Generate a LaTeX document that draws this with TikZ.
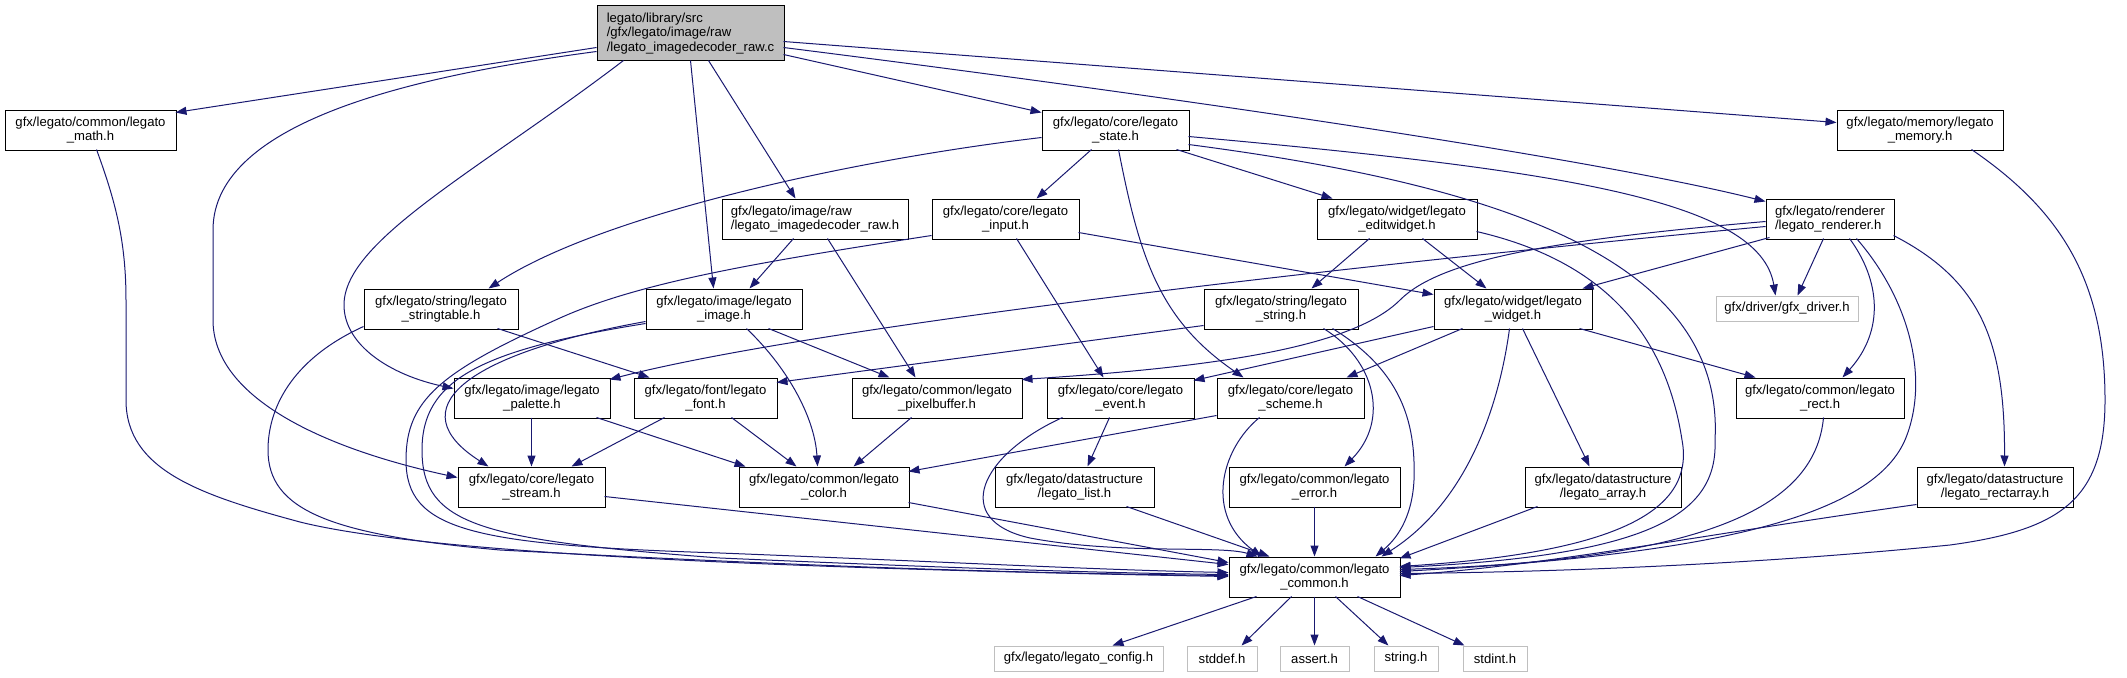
\documentclass[tikz,border=0pt]{standalone}
\usepackage{fontspec}
\setmainfont{Liberation Sans}
\usetikzlibrary{arrows.meta,calc}
\definecolor{edgecol}{HTML}{191970}
\definecolor{rootfill}{HTML}{BFBFBF}
\definecolor{extcol}{HTML}{BFBFBF}
\tikzset{
  box/.style={draw=black, line width=1pt, fill=white, inner sep=0pt, align=center,
    font=\fontsize{13.1}{14.6}\selectfont},
  extbox/.style={box, draw=extcol},
  e/.style={draw=edgecol, line width=1pt, -{Triangle[length=11pt,width=8pt]}}
}
\begin{document}
\begin{tikzpicture}[x=1pt,y=-1pt]
\useasboundingbox (0,0) rectangle (2127,677);
% nodes
\node[box, fill=rootfill, align=left, minimum width=187pt, minimum height=55pt] (root) at (690.5,33.5) {legato/library/src\\/gfx/legato/image/raw\\/legato\_imagedecoder\_raw.c};
\node[box, minimum width=171pt, minimum height=40pt] (math) at (90.5,130) {gfx/legato/common/legato\\\_math.h};
\node[box, minimum width=147pt, minimum height=40pt] (state) at (1115.5,130) {gfx/legato/core/legato\\\_state.h};
\node[box, minimum width=166pt, minimum height=40pt] (memory) at (1920,130) {gfx/legato/memory/legato\\\_memory.h};
\node[box, align=left, minimum width=186pt, minimum height=40pt] (imgraw) at (815,219) {gfx/legato/image/raw\\/legato\_imagedecoder\_raw.h};
\node[box, minimum width=147pt, minimum height=40pt] (input) at (1005.5,219) {gfx/legato/core/legato\\\_input.h};
\node[box, minimum width=160pt, minimum height=40pt] (editw) at (1397,219) {gfx/legato/widget/legato\\\_editwidget.h};
\node[box, align=left, minimum width=128pt, minimum height=40pt] (render) at (1830,219) {gfx/legato/renderer\\/legato\_renderer.h};
\node[box, minimum width=154pt, minimum height=40pt] (strtab) at (441,309) {gfx/legato/string/legato\\\_stringtable.h};
\node[box, minimum width=156pt, minimum height=40pt] (image) at (724,309) {gfx/legato/image/legato\\\_image.h};
\node[box, minimum width=154pt, minimum height=40pt] (lstring) at (1281,309) {gfx/legato/string/legato\\\_string.h};
\node[box, minimum width=158pt, minimum height=40pt] (widget) at (1513,309) {gfx/legato/widget/legato\\\_widget.h};
\node[extbox, minimum width=142pt, minimum height=25pt] (driver) at (1787,308.5) {gfx/driver/gfx\_driver.h};
\node[box, minimum width=156pt, minimum height=40pt] (palette) at (532,398) {gfx/legato/image/legato\\\_palette.h};
\node[box, minimum width=143pt, minimum height=40pt] (font) at (705.5,398) {gfx/legato/font/legato\\\_font.h};
\node[box, minimum width=170pt, minimum height=40pt] (pixbuf) at (937,398) {gfx/legato/common/legato\\\_pixelbuffer.h};
\node[box, minimum width=147pt, minimum height=40pt] (event) at (1120.5,398) {gfx/legato/core/legato\\\_event.h};
\node[box, minimum width=147pt, minimum height=40pt] (scheme) at (1290.5,398) {gfx/legato/core/legato\\\_scheme.h};
\node[box, minimum width=168pt, minimum height=40pt] (rect) at (1820,398) {gfx/legato/common/legato\\\_rect.h};
\node[box, minimum width=147pt, minimum height=40pt] (stream) at (531.5,487) {gfx/legato/core/legato\\\_stream.h};
\node[box, minimum width=170pt, minimum height=40pt] (color) at (824,487) {gfx/legato/common/legato\\\_color.h};
\node[box, minimum width=159pt, minimum height=40pt] (list) at (1074.5,487) {gfx/legato/datastructure\\/legato\_list.h};
\node[box, minimum width=171pt, minimum height=40pt] (error) at (1314.5,487) {gfx/legato/common/legato\\\_error.h};
\node[box, minimum width=156pt, minimum height=40pt] (array) at (1603,487) {gfx/legato/datastructure\\/legato\_array.h};
\node[box, minimum width=156pt, minimum height=40pt] (rectarr) at (1995,487) {gfx/legato/datastructure\\/legato\_rectarray.h};
\node[box, minimum width=171pt, minimum height=40pt] (common) at (1314.5,577) {gfx/legato/common/legato\\\_common.h};
\node[extbox, minimum width=169pt, minimum height=25pt] (config) at (1078.5,658.5) {gfx/legato/legato\_config.h};
\node[extbox, minimum width=70pt, minimum height=25pt] (stddef) at (1222,658.5) {stddef.h};
\node[extbox, minimum width=69pt, minimum height=25pt] (assert) at (1314.5,658.5) {assert.h};
\node[extbox, minimum width=64pt, minimum height=25pt] (stdh) at (1406,658.5) {string.h};
\node[extbox, minimum width=64pt, minimum height=25pt] (stdint) at (1495,658.5) {stdint.h};
% edges from root
\draw[e] ($(root.north west)+(0,42)$) -- ($(math.north west)+(171,3)$);
\draw[e] ($(root.north west)+(0,46)$) .. controls (420,75) and (213,120) .. (213,230) -- (213,320) .. controls (213,400) and (330,450) .. ($(stream.north west)+(0,11)$);
\draw[e] ($(root.north west)+(27,55)$) .. controls (480,170) and (344,240) .. (344,305) .. controls (344,345) and (390,375) .. ($(palette.north west)+(0,11)$);
\draw[e] ($(root.north west)+(94,55)$) -- ($(image.north west)+(68,0)$);
\draw[e] ($(root.north west)+(112,55)$) -- ($(imgraw.north west)+(74,0)$);
\draw[e] ($(root.north west)+(187,49)$) -- ($(state.north west)+(0,3)$);
\draw[e] ($(root.north west)+(187,42)$) .. controls (1200,100) and (1600,160) .. ($(render.north west)+(0,3)$);
\draw[e] ($(root.north west)+(187,36)$) -- ($(memory.north west)+(0,13)$);
% state
\draw[e] ($(state.north west)+(0,28)$) .. controls (850,160) and (600,215) .. ($(strtab.north west)+(125,0)$);
\draw[e] ($(state.north west)+(50,40)$) -- ($(input.north west)+(105,0)$);
\draw[e] ($(state.north west)+(135,40)$) -- ($(editw.north west)+(16,0)$);
\draw[e] ($(state.north west)+(77,40)$) .. controls (1140,260) and (1160,320) .. ($(scheme.north west)+(27,0)$);
\draw[e] ($(state.north west)+(147,35)$) .. controls (1500,185) and (1725,260) .. (1715,440) .. controls (1718,515) and (1650,555) .. ($(common.north west)+(171,11)$);
\draw[e] ($(state.north west)+(147,27)$) .. controls (1560,170) and (1760,200) .. ($(driver.north west)+(60,0)$);
% input
\draw[e] ($(input.north west)+(147,34)$) -- ($(widget.north west)+(0,6)$);
\draw[e] ($(input.north west)+(85,40)$) -- ($(event.north west)+(57,0)$);
\draw[e] ($(input.north west)+(0,37)$) .. controls (760,262) and (640,282) .. (560,318) .. controls (440,372) and (406,400) .. (406,460) .. controls (406,530) and (470,545) .. (720,553) .. controls (950,562) and (1100,570) .. ($(common.north west)+(0,16)$);
% imgraw
\draw[e] ($(imgraw.north west)+(72,40)$) -- ($(image.north west)+(104,0)$);
\draw[e] ($(imgraw.north west)+(106,40)$) -- ($(pixbuf.north west)+(64,0)$);
% image
\draw[e] ($(image.north west)+(123,40)$) -- ($(pixbuf.north west)+(38,0)$);
\draw[e] ($(image.north west)+(101,40)$) .. controls (790,370) and (815,420) .. ($(color.north west)+(79,0)$);
\draw[e] ($(image.north west)+(0,33)$) .. controls (460,355) and (400,410) .. ($(stream.north west)+(31,0)$);
\draw[e] ($(image.north west)+(0,35)$) .. controls (480,350) and (422,380) .. (422,450) .. controls (422,525) and (480,540) .. (720,558) .. controls (950,568) and (1100,573) .. ($(common.north west)+(0,18)$);
% math, stringtable
\draw[e] ($(math.north west)+(92,40)$) .. controls (115,200) and (126,240) .. (126,300) -- (126,400) .. controls (126,470) and (200,495) .. (300,522) .. controls (420,552) and (750,568) .. ($(common.north west)+(0,20)$);
\draw[e] ($(strtab.north west)+(0,38)$) .. controls (290,360) and (268,410) .. (268,450) .. controls (268,510) and (330,535) .. (500,550) .. controls (800,566) and (1000,573) .. ($(common.north west)+(0,19)$);
\draw[e] ($(strtab.north west)+(134,40)$) -- ($(font.north west)+(16,0)$);
% legato_string
\draw[e] ($(lstring.north west)+(0,37)$) -- ($(font.north west)+(143,5)$);
\draw[e] ($(lstring.north west)+(120,40)$) .. controls (1375,360) and (1390,420) .. ($(error.north west)+(116,0)$);
\draw[e] ($(lstring.north west)+(129,40)$) .. controls (1400,370) and (1416,420) .. (1414,480) .. controls (1412,520) and (1395,540) .. ($(common.north west)+(147,0)$);
% renderer
\draw[e] ($(render.north west)+(0,28)$) .. controls (1300,270) and (800,330) .. ($(palette.north west)+(156,2)$);
\draw[e] ($(render.north west)+(0,23)$) .. controls (1550,240) and (1440,260) .. (1400,300) .. controls (1350,350) and (1200,368) .. ($(pixbuf.north west)+(170,2)$);
\draw[e] ($(render.north west)+(4,39)$) -- ($(widget.north west)+(149,0)$);
\draw[e] ($(render.north west)+(58,40)$) -- ($(driver.north west)+(82,0)$);
\draw[e] ($(render.north west)+(84,40)$) .. controls (1880,280) and (1885,330) .. ($(rect.north west)+(107,0)$);
\draw[e] ($(render.north west)+(91,40)$) .. controls (1910,300) and (1930,380) .. (1905,440) .. controls (1870,520) and (1700,555) .. ($(common.north west)+(171,15)$);
\draw[e] ($(render.north west)+(128,37)$) .. controls (1980,280) and (2005,340) .. ($(rectarr.north west)+(88,0)$);
% memory
\draw[e] ($(memory.north west)+(135,40)$) .. controls (2060,210) and (2105,280) .. (2105,400) .. controls (2105,500) and (2060,530) .. (1950,545) .. controls (1750,565) and (1550,572) .. ($(common.north west)+(171,17)$);
% editwidget
\draw[e] ($(editw.north west)+(53,40)$) -- ($(lstring.north west)+(108,0)$);
\draw[e] ($(editw.north west)+(106,40)$) -- ($(widget.north west)+(53,0)$);
\draw[e] ($(editw.north west)+(160,33)$) .. controls (1600,260) and (1665,330) .. (1682,440) .. controls (1695,510) and (1620,552) .. ($(common.north west)+(171,10)$);
% widget
\draw[e] ($(widget.north west)+(0,38)$) -- ($(event.north west)+(147,3)$);
\draw[e] ($(widget.north west)+(29,40)$) -- ($(scheme.north west)+(130,0)$);
\draw[e] ($(widget.north west)+(146,40)$) -- ($(rect.north west)+(20,0)$);
\draw[e] ($(widget.north west)+(89,40)$) -- ($(array.north west)+(65,0)$);
\draw[e] ($(widget.north west)+(76,40)$) .. controls (1500,400) and (1470,500) .. ($(common.north west)+(153,0)$);
% row 4
\draw[e] ($(palette.north west)+(78,40)$) -- ($(stream.north west)+(74,0)$);
\draw[e] ($(palette.north west)+(143,40)$) -- ($(color.north west)+(7,0)$);
\draw[e] ($(font.north west)+(31,40)$) -- ($(stream.north west)+(114,0)$);
\draw[e] ($(font.north west)+(98,40)$) -- ($(color.north west)+(58,0)$);
\draw[e] ($(pixbuf.north west)+(60,40)$) -- ($(color.north west)+(115,0)$);
\draw[e] ($(scheme.north west)+(0,38)$) -- ($(color.north west)+(170,5)$);
\draw[e] ($(event.north west)+(63,40)$) -- ($(list.north west)+(93,0)$);
\draw[e] ($(event.north west)+(16,40)$) .. controls (980,455) and (950,520) .. (1030,538) .. controls (1120,555) and (1220,545) .. ($(common.north west)+(29,0)$);
\draw[e] ($(scheme.north west)+(43,40)$) .. controls (1220,450) and (1205,515) .. ($(common.north west)+(33,0)$);
\draw[e] ($(rect.north west)+(88,40)$) .. controls (1815,510) and (1700,560) .. ($(common.north west)+(171,13)$);
% row 5
\draw[e] ($(stream.north west)+(147,30)$) -- ($(common.north west)+(0,8)$);
\draw[e] ($(color.north west)+(170,36)$) -- ($(common.north west)+(0,6)$);
\draw[e] ($(list.north west)+(132,40)$) -- ($(common.north west)+(41,0)$);
\draw[e] ($(error.north west)+(86,40)$) -- ($(common.north west)+(86,0)$);
\draw[e] ($(array.north west)+(13,40)$) -- ($(common.north west)+(171,2)$);
\draw[e] ($(rectarr.north west)+(0,38)$) .. controls (1700,535) and (1550,565) .. ($(common.north west)+(171,19)$);
% common
\draw[e] ($(common.north west)+(28,40)$) -- ($(config.north west)+(119,0)$);
\draw[e] ($(common.north west)+(63,40)$) -- ($(stddef.north west)+(55,0)$);
\draw[e] ($(common.north west)+(86,40)$) -- ($(assert.north west)+(35,0)$);
\draw[e] ($(common.north west)+(107,40)$) -- ($(stdh.north west)+(15,0)$);
\draw[e] ($(common.north west)+(129,40)$) -- ($(stdint.north west)+(2,0)$);
\end{tikzpicture}
\end{document}
